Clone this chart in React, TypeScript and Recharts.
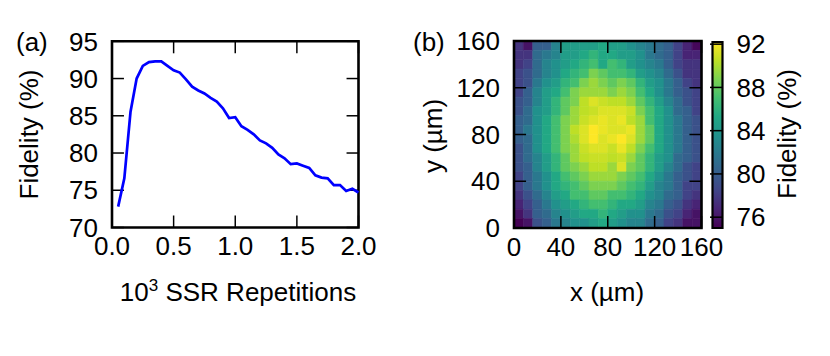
import React from 'react';
import { LineChart, Line, XAxis, YAxis, ScatterChart, Scatter, ReferenceArea } from 'recharts';

const FONT = '"Liberation Sans", Arial, Helvetica, sans-serif';

// ---- Panel (a): fidelity vs SSR repetitions (10^3) ----
const ssrRepetitions = [
  0.05, 0.1, 0.15, 0.2, 0.25, 0.3, 0.35, 0.4, 0.45, 0.5,
  0.55, 0.6, 0.65, 0.7, 0.75, 0.8, 0.85, 0.9, 0.95, 1.0,
  1.05, 1.1, 1.15, 1.2, 1.25, 1.3, 1.35, 1.4, 1.45, 1.5,
  1.55, 1.6, 1.65, 1.7, 1.75, 1.8, 1.85, 1.9, 1.95, 2.0,
];
const fidelityCurve = [
  72.8, 76.6, 85.5, 90.0, 91.7, 92.2, 92.3, 92.3, 91.7, 91.1,
  90.8, 89.9, 88.9, 88.4, 88.0, 87.4, 86.9, 86.0, 84.7, 84.8,
  83.6, 83.1, 82.5, 81.7, 81.3, 80.7, 79.8, 79.3, 78.5, 78.6,
  78.3, 78.0, 77.0, 76.7, 76.6, 75.7, 75.7, 74.9, 75.2, 74.7,
];
const repetitionTicks = [0, 0.5, 1, 1.5, 2];
const fidelityTicks = [70, 75, 80, 85, 90, 95];

// ---- Panel (b): fidelity map over position ----
const positionTicks = [0, 40, 80, 120, 160];
const cellSize = 8;
const cellLeftEdges = [0, 8, 16, 24, 32, 40, 48, 56, 64, 72, 80, 88, 96, 104, 112, 120, 128, 136, 144, 152];
const rowTopEdges = [160, 152, 144, 136, 128, 120, 112, 104, 96, 88, 80, 72, 64, 56, 48, 40, 32, 24, 16, 8];
// rows listed from top (y = 160) to bottom (y = 0)
const fidelityMap = [
  [77.6, 75.9, 80.2, 80.2, 82.7, 84.5, 84.5, 84.5, 84.5, 85.3, 84.5, 84.5, 83.6, 82.7, 81.9, 81.0, 80.2, 78.4, 76.7, 75.3],
  [77.6, 77.6, 81.0, 81.9, 82.7, 84.5, 84.5, 85.3, 86.2, 85.3, 85.3, 84.5, 84.5, 83.6, 81.9, 81.0, 80.2, 78.4, 76.7, 76.7],
  [77.6, 78.4, 81.0, 82.7, 83.6, 84.5, 85.3, 86.2, 87.0, 85.3, 87.0, 86.2, 84.5, 83.6, 82.7, 81.9, 80.2, 78.4, 77.6, 77.6],
  [78.4, 79.3, 81.0, 82.7, 83.6, 85.3, 86.2, 87.0, 88.8, 87.9, 87.0, 87.0, 86.2, 84.5, 83.6, 82.7, 81.0, 79.3, 77.6, 77.6],
  [78.4, 79.3, 81.9, 83.6, 84.5, 86.2, 87.0, 88.8, 89.6, 88.8, 87.9, 88.8, 87.9, 86.2, 84.5, 83.6, 81.9, 80.2, 78.4, 77.6],
  [78.4, 80.2, 82.7, 84.5, 85.3, 87.0, 88.8, 89.6, 89.6, 89.6, 88.8, 89.6, 88.8, 87.0, 85.3, 83.6, 81.9, 80.2, 79.3, 78.4],
  [79.3, 80.2, 82.7, 84.5, 86.2, 87.9, 88.8, 90.5, 91.3, 90.8, 90.5, 90.5, 89.6, 87.9, 86.2, 84.5, 82.7, 81.0, 79.3, 78.4],
  [79.3, 81.0, 83.6, 84.5, 86.2, 87.9, 89.6, 90.5, 90.8, 91.3, 91.3, 91.3, 90.8, 88.8, 87.0, 85.3, 83.6, 81.0, 80.2, 78.4],
  [80.2, 81.0, 83.6, 85.3, 87.0, 88.8, 89.6, 90.8, 91.3, 91.7, 91.3, 91.7, 90.5, 89.6, 87.0, 85.3, 83.6, 81.9, 80.2, 79.3],
  [80.2, 81.9, 83.6, 85.3, 87.0, 88.8, 90.5, 91.3, 92.2, 91.7, 91.3, 91.3, 91.7, 89.6, 87.9, 85.3, 83.6, 81.9, 80.2, 79.3],
  [80.2, 81.0, 83.6, 85.3, 87.0, 88.8, 90.1, 91.3, 92.2, 91.3, 91.7, 92.2, 91.3, 89.6, 87.9, 85.3, 83.6, 81.9, 80.2, 79.3],
  [79.3, 81.0, 83.6, 85.3, 87.0, 88.8, 89.6, 90.8, 91.3, 91.3, 90.8, 91.7, 90.5, 88.8, 87.0, 85.3, 83.6, 81.9, 80.2, 79.3],
  [79.3, 81.0, 82.7, 84.5, 86.2, 87.9, 89.6, 90.5, 90.8, 90.8, 90.5, 90.8, 89.6, 87.9, 86.2, 84.5, 83.6, 81.0, 80.2, 79.3],
  [79.3, 80.2, 82.7, 84.5, 86.2, 87.9, 88.8, 89.6, 90.5, 90.5, 89.6, 91.3, 88.8, 87.9, 86.2, 84.5, 82.7, 81.0, 79.3, 78.4],
  [78.4, 80.2, 81.9, 83.6, 85.3, 87.0, 87.9, 88.8, 89.6, 89.6, 89.6, 88.8, 87.9, 87.0, 85.3, 83.6, 81.9, 80.2, 79.3, 78.4],
  [78.4, 80.2, 81.9, 83.6, 85.3, 86.2, 87.0, 87.9, 88.8, 88.8, 88.8, 87.9, 87.0, 86.2, 84.5, 82.7, 81.9, 80.2, 78.4, 78.4],
  [77.6, 79.3, 81.0, 82.7, 84.5, 85.3, 87.0, 87.0, 87.9, 87.9, 87.0, 87.0, 86.2, 85.3, 83.6, 82.7, 81.0, 80.2, 78.4, 77.6],
  [76.7, 78.4, 80.2, 81.9, 83.6, 84.5, 85.3, 86.2, 87.0, 87.0, 86.2, 85.3, 85.3, 84.5, 82.7, 81.9, 80.2, 79.3, 77.6, 76.7],
  [75.9, 77.6, 80.2, 81.0, 82.7, 83.6, 84.5, 85.3, 85.3, 86.2, 85.3, 84.5, 83.6, 83.6, 81.9, 81.0, 79.3, 78.4, 76.7, 75.9],
  [75.0, 75.9, 79.3, 80.2, 81.9, 82.7, 83.6, 83.6, 84.5, 85.3, 84.5, 83.6, 82.7, 82.7, 81.0, 80.2, 78.4, 77.6, 75.9, 75.9],
];
const colorbarTicks = [76, 80, 84, 88, 92];
const colorMin = 75.0;
const colorMax = 92.2;

// viridis colormap anchors
const viridis = ['#440154', '#482475', '#414487', '#355f8d', '#2a788e', '#21918c', '#22a884', '#44bf70', '#7ad151', '#bddf26', '#fde725'];

const hexToRgb = (h: string) => [parseInt(h.slice(1, 3), 16), parseInt(h.slice(3, 5), 16), parseInt(h.slice(5, 7), 16)];
const colorFor = (v: number) => {
  let t = (v - colorMin) / (colorMax - colorMin);
  t = Math.max(0, Math.min(1, t));
  const pos = t * (viridis.length - 1);
  const i = Math.min(Math.floor(pos), viridis.length - 2);
  const f = pos - i;
  const a = hexToRgb(viridis[i]);
  const b = hexToRgb(viridis[i + 1]);
  const c = a.map((av, k) => Math.round(av + (b[k] - av) * f));
  return `rgb(${c[0]},${c[1]},${c[2]})`;
};

const lineData = ssrRepetitions.map((r, i) => ({ r, f: fidelityCurve[i] }));

const cells: { x1: number; x2: number; y1: number; y2: number; cx: number; cy: number; color: string }[] = [];
fidelityMap.forEach((row, ri) => {
  row.forEach((v, ci) => {
    const x1 = cellLeftEdges[ci];
    const y2 = rowTopEdges[ri];
    cells.push({ x1, x2: x1 + cellSize, y1: y2 - cellSize, y2, cx: x1 + cellSize / 2, cy: y2 - cellSize / 2, color: colorFor(v) });
  });
});
const colorbarAnchors = [{ cx: 0.5, cy: colorMin }, { cx: 0.5, cy: colorMax }];

// inward tick marks as thin filled bars: length (~12 px) and half-thickness (~0.75 px) in axis units
const A_LEN_X = 0.097;
const A_LEN_Y = 1.61;
const A_HW_X = 0.006;
const A_HW_Y = 0.1;
const B_LEN = 10.3;
const B_HW = 0.64;
const CB_HW = 0.07;

const FS = 26;
const GAP = 14;
const tickFill = { fill: '#000', fillOpacity: 1, stroke: 'none', ifOverflow: 'visible' as const };

const fmt1 = (v: number) => v.toFixed(1);
const fmt0 = (v: number) => String(v);

const LeftLabel = (p: any) => (
  <text x={p.x - GAP} y={p.y} dy="0.355em" textAnchor="end" fontSize={FS} fontFamily={FONT} fill="#000">{fmt0(p.payload.value)}</text>
);
const BottomLabel1 = (p: any) => (
  <text x={p.x} y={p.y + 27.5} textAnchor="middle" fontSize={FS} fontFamily={FONT} fill="#000">{fmt1(p.payload.value)}</text>
);
const BottomLabel0 = (p: any) => (
  <text x={p.x} y={p.y + 27.5} textAnchor="middle" fontSize={FS} fontFamily={FONT} fill="#000">{fmt0(p.payload.value)}</text>
);
const ColorbarLabel = (p: any) => (
  <text x={p.x + GAP} y={p.y} dy="0.355em" textAnchor="start" fontSize={FS} fontFamily={FONT} fill="#000">{p.payload.value}</text>
);

export default function App() {
  return (
    <div style={{ position: 'absolute', left: 0, top: 0, width: 830, height: 356, background: '#fff', fontFamily: FONT }}>
      {/* Panel (a) */}
      <div style={{ position: 'absolute', left: 0, top: 0 }}>
        <LineChart width={380} height={356} data={lineData} margin={{ top: 41.3, right: 21.5, bottom: 58.5, left: 0 }}>
          <Line type="linear" dataKey="f" stroke="#0000ff" strokeWidth={2.7} dot={false} isAnimationActive={false} />
          <XAxis type="number" dataKey="r" domain={[0, 2]} ticks={repetitionTicks} interval={0} height={70}
            tick={BottomLabel1} tickSize={0} tickMargin={0} axisLine={false} tickLine={false} />
          <YAxis type="number" domain={[70, 95]} ticks={fidelityTicks} interval={0} width={112}
            tick={LeftLabel} tickSize={0} tickMargin={0} axisLine={false} tickLine={false} />
          {repetitionTicks.map((t) => (
            <ReferenceArea key={`ab${t}`} x1={t - A_HW_X} x2={t + A_HW_X} y1={70} y2={70 + A_LEN_Y} {...tickFill} />
          ))}
          {repetitionTicks.map((t) => (
            <ReferenceArea key={`at${t}`} x1={t - A_HW_X} x2={t + A_HW_X} y1={95 - A_LEN_Y} y2={95} {...tickFill} />
          ))}
          {fidelityTicks.map((t) => (
            <ReferenceArea key={`al${t}`} x1={0} x2={A_LEN_X} y1={t - A_HW_Y} y2={t + A_HW_Y} {...tickFill} />
          ))}
          {fidelityTicks.map((t) => (
            <ReferenceArea key={`ar${t}`} x1={2 - A_LEN_X} x2={2} y1={t - A_HW_Y} y2={t + A_HW_Y} {...tickFill} />
          ))}
          <ReferenceArea x1={0} x2={2} y1={70} y2={95} fill="none" fillOpacity={0} stroke="#000" strokeWidth={2.6} />
        </LineChart>
      </div>

      {/* Panel (b) heatmap */}
      <div style={{ position: 'absolute', left: 400, top: 0 }}>
        <ScatterChart width={330} height={356} margin={{ top: 41, right: 28.5, bottom: 58, left: 0 }}>
          {cells.map((c, i) => (
            <ReferenceArea key={i} x1={c.x1} x2={c.x2} y1={c.y1} y2={c.y2}
              fill={c.color} fillOpacity={1} stroke={c.color} strokeWidth={0.6} />
          ))}
          <Scatter data={cells} dataKey="cy" fill="none" shape={() => <g />} isAnimationActive={false} />
          <XAxis type="number" dataKey="cx" domain={[0, 160]} allowDataOverflow ticks={positionTicks} interval={0} height={70}
            tick={BottomLabel0} tickSize={0} tickMargin={0} axisLine={false} tickLine={false} />
          <YAxis type="number" dataKey="cy" domain={[0, 160]} allowDataOverflow ticks={positionTicks} interval={0} width={114}
            tick={LeftLabel} tickSize={0} tickMargin={0} axisLine={false} tickLine={false} />
          {positionTicks.map((t) => (
            <ReferenceArea key={`bb${t}`} x1={t - B_HW} x2={t + B_HW} y1={0} y2={B_LEN} {...tickFill} />
          ))}
          {positionTicks.map((t) => (
            <ReferenceArea key={`bt${t}`} x1={t - B_HW} x2={t + B_HW} y1={160 - B_LEN} y2={160} {...tickFill} />
          ))}
          {positionTicks.map((t) => (
            <ReferenceArea key={`bl${t}`} x1={0} x2={B_LEN} y1={t - B_HW} y2={t + B_HW} {...tickFill} />
          ))}
          {positionTicks.map((t) => (
            <ReferenceArea key={`br${t}`} x1={160 - B_LEN} x2={160} y1={t - B_HW} y2={t + B_HW} {...tickFill} />
          ))}
          <ReferenceArea x1={0} x2={160} y1={0} y2={160} fill="none" fillOpacity={0} stroke="#000" strokeWidth={2.6} />
        </ScatterChart>
      </div>

      {/* Colorbar */}
      <div style={{ position: 'absolute', left: 700, top: 0 }}>
        <ScatterChart width={130} height={356} margin={{ top: 42, right: 47.5, bottom: 128, left: 12.5 }}>
          <defs>
            <linearGradient id="viridisBar" x1="0" y1="1" x2="0" y2="0">
              {viridis.map((c, i) => (
                <stop key={i} offset={`${(i / (viridis.length - 1)) * 100}%`} stopColor={c} />
              ))}
            </linearGradient>
          </defs>
          <ReferenceArea x1={0} x2={1} y1={colorMin} y2={colorMax}
            fill="url(#viridisBar)" fillOpacity={1} stroke="#000" strokeWidth={2.2} />
          <Scatter data={colorbarAnchors} dataKey="cy" fill="none" shape={() => <g />} isAnimationActive={false} />
          <XAxis type="number" dataKey="cx" domain={[0, 1]} allowDataOverflow hide />
          <YAxis orientation="right" type="number" dataKey="cy" domain={[colorMin, colorMax]} allowDataOverflow ticks={colorbarTicks} interval={0} width={60}
            tick={ColorbarLabel} tickSize={0} tickMargin={0} axisLine={false} tickLine={false} />
          {colorbarTicks.map((t) => (
            <ReferenceArea key={`cb${t}`} x1={-0.25} x2={1} y1={t - CB_HW} y2={t + CB_HW} {...tickFill} />
          ))}
        </ScatterChart>
      </div>

      {/* Titles and panel letters */}
      <svg width={830} height={356} style={{ position: 'absolute', left: 0, top: 0, pointerEvents: 'none' }}>
        <g fontFamily={FONT} fontSize={FS} fill="#000">
          <text x={16} y={51}>(a)</text>
          <text x={413} y={51}>(b)</text>
          <text transform="translate(38,134.5) rotate(-90)" textAnchor="middle">Fidelity (%)</text>
          <text x={238} y={301} textAnchor="middle">
            10<tspan dy={-10} fontSize={17}>3</tspan><tspan dy={10}> SSR Repetitions</tspan>
          </text>
          <text transform="translate(442,136) rotate(-90)" textAnchor="middle">y (µm)</text>
          <text x={607} y={301} textAnchor="middle">x (µm)</text>
          <text transform="translate(796,134) rotate(-90)" textAnchor="middle">Fidelity (%)</text>
        </g>
      </svg>
    </div>
  );
}
